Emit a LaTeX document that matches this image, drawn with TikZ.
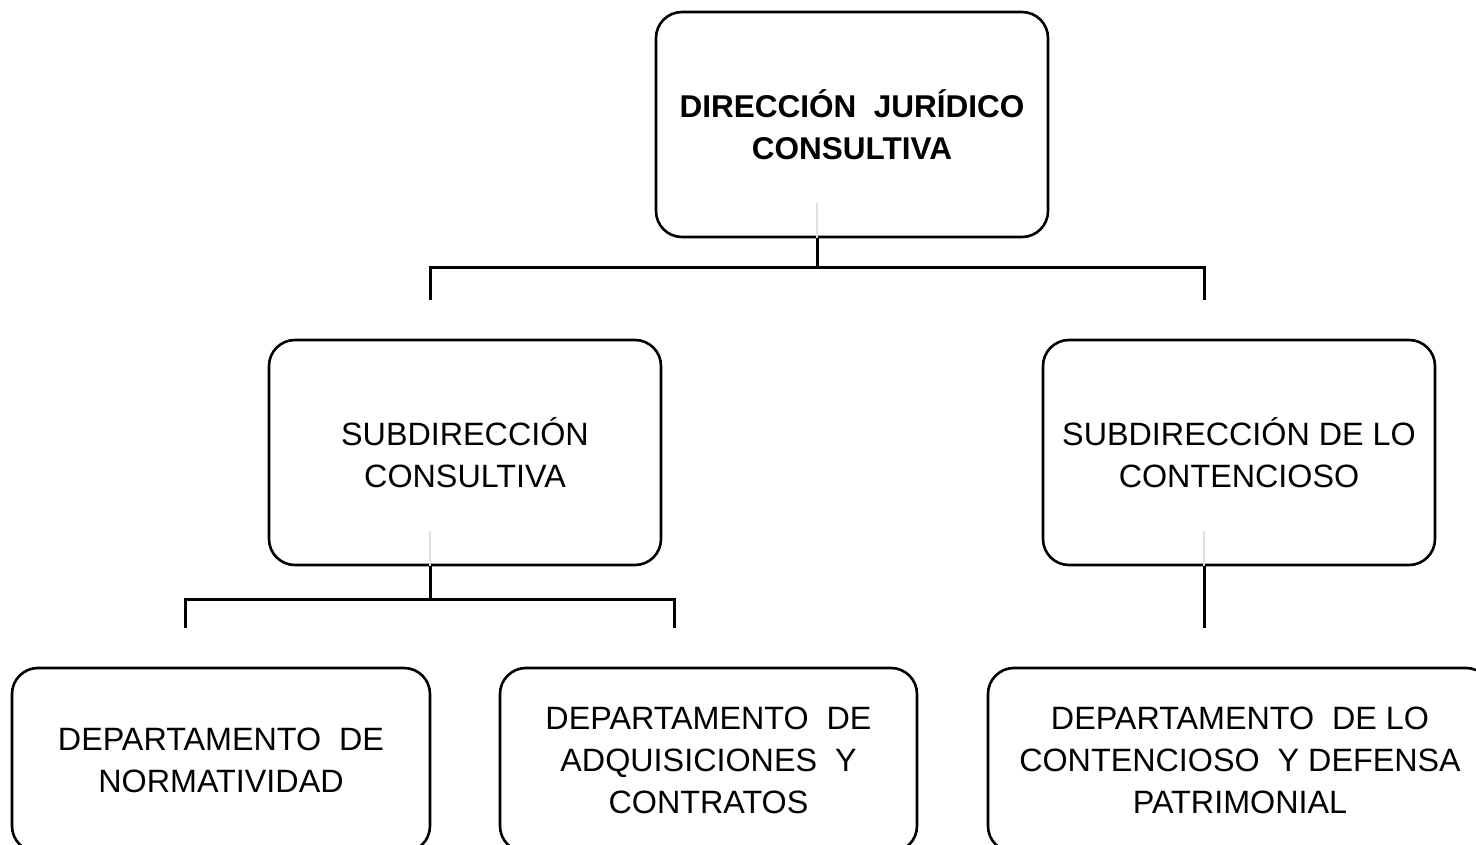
\documentclass[tikz,border=0pt]{standalone}
\usepackage{fontspec}
\setmainfont{Liberation Sans}
\begin{document}
\begin{tikzpicture}[x=1pt,y=-1pt,
  box/.style={draw=black, line width=2.6pt, rounded corners=26pt, fill=white, inner sep=0pt, align=center, font=\fontsize{32.3}{42}\selectfont},
  bigbox/.style={box, minimum width=392pt, minimum height=225pt},
  conn/.style={line width=3pt},
  ghost/.style={draw=black!12, line width=1.5pt}]
\clip (0,0) rectangle (1476,845);
\fill[white] (0,0) rectangle (1476,845);
% boxes
\node[bigbox, font=\bfseries\fontsize{31.5}{42}\selectfont] (top) at (852,124.5) {DIRECCIÓN\ \ JURÍDICO\\CONSULTIVA};
\node[bigbox] (sl) at (465,452.5) {SUBDIRECCIÓN\\CONSULTIVA};
\node[bigbox] (sr) at (1239,452.5) {SUBDIRECCIÓN DE LO\\CONTENCIOSO};
\node[box, minimum width=418pt, minimum height=184pt] (dl) at (221,760) {DEPARTAMENTO\ \ DE\\NORMATIVIDAD};
\node[box, minimum width=417pt, minimum height=184pt] (dm) at (708.5,760) {DEPARTAMENTO\ \ DE\\ADQUISICIONES\ \ Y\\CONTRATOS};
\node[box, minimum width=504pt, minimum height=184pt] (dr) at (1240,760) {DEPARTAMENTO\ \ DE LO\\CONTENCIOSO\ \ Y DEFENSA\\PATRIMONIAL};
% junctions and free ends
\coordinate (j0) at (817,268);
\coordinate (a1) at (430,300);
\coordinate (a2) at (1204,300);
\coordinate (j1) at (430,599);
\coordinate (b1) at (185,628);
\coordinate (b2) at (674,628);
\coordinate (c1) at (1204,628);
% faint inner traces
\draw[ghost] (top.south -| j0) -- ++(0,-35);
\draw[ghost] (sl.south -| j1) -- ++(0,-35);
\draw[ghost] (sr.south -| c1) -- ++(0,-35);
% connectors
\draw[conn] (top.south -| j0) -- (j0);
\draw[conn] (a1) -- (a1 |- j0) -- (a2 |- j0) -- (a2);
\draw[conn] (sl.south -| j1) -- (j1);
\draw[conn] (b1) -- (b1 |- j1) -- (b2 |- j1) -- (b2);
\draw[conn] (sr.south -| c1) -- (c1);
\end{tikzpicture}
\end{document}
